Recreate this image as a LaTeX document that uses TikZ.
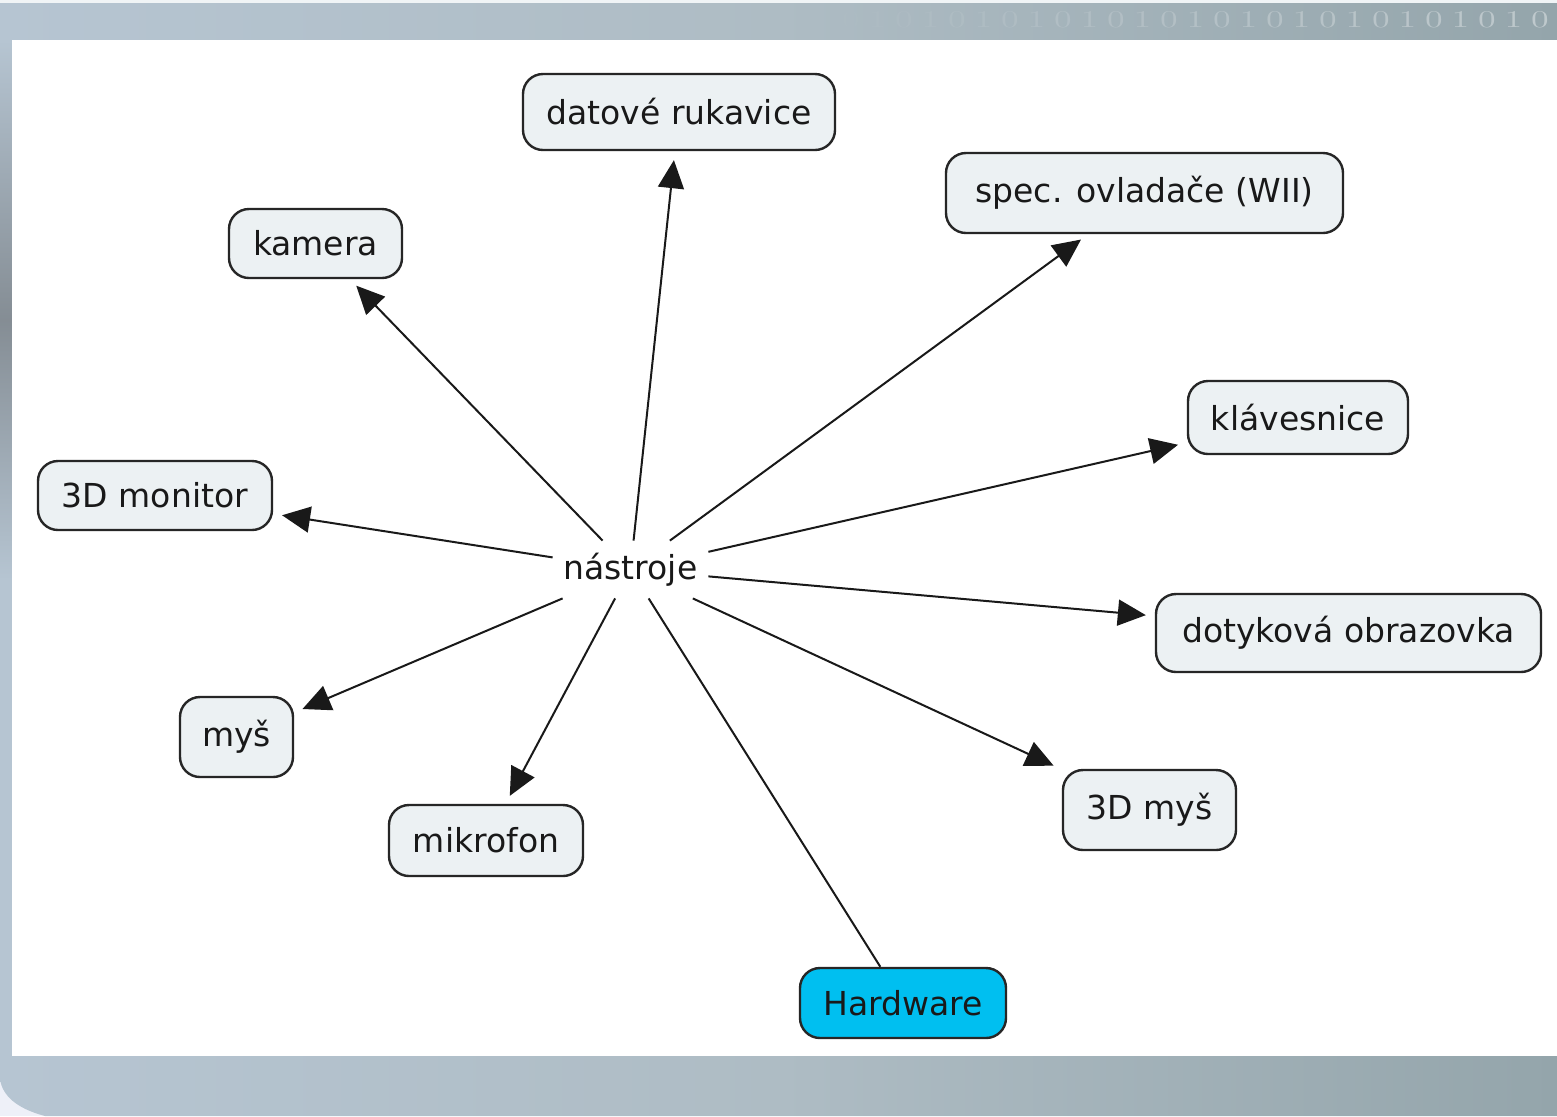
\documentclass[tikz,border=0pt]{standalone}
\usepackage{fontspec}
\setmainfont{DejaVu Sans}
\newfontfamily\bitfont{DejaVu Sans Mono}
\usetikzlibrary{arrows.meta}
\definecolor{bandL}{HTML}{B6C5D2}
\definecolor{bandM}{HTML}{AEBCC4}
\definecolor{bandR}{HTML}{94A5AB}
\definecolor{outer}{HTML}{EEF0F8}
\definecolor{boxfill}{HTML}{ECF1F3}
\definecolor{hwfill}{HTML}{00BFF0}
\begin{document}
\begin{tikzpicture}[x=0.5pt,y=-0.5pt,
  concept/.style={draw=black!85, line width=1.2pt, rounded corners=10pt, fill=boxfill,
    font=\fontsize{16.5}{19}\selectfont, text=black!90, inner sep=0pt},
  hub/.style={font=\fontsize{16.5}{19}\selectfont, text=black!90, inner sep=0pt,
    minimum width=77.5pt, minimum height=28.5pt},
  link/.style={line width=1pt, black!90, -{Triangle[length=14pt,width=13pt]}, shorten >=4.5pt},
  plainlink/.style={line width=1pt, black!90},
  bit/.style={text=white, font=\fontsize{13}{13}\selectfont\bitfont, xscale=1.5, inner sep=0pt}
]
% background frame
\useasboundingbox (0,0) rectangle (1557,1116);
\fill[outer] (0,0) rectangle (1557,1116);
\shade[left color=bandL, right color=bandR, middle color=bandM]
  (0,0) -- (1557,0) -- (1557,1116) -- (45,1116) .. controls (15,1108) and (3,1095) .. (0,1080) -- cycle;
\shade[top color=bandL, bottom color=bandL!70!gray!80!black] (0,40) rectangle (12,320);
\shade[top color=bandL!70!gray!80!black, bottom color=bandL] (0,320) rectangle (12,580);
\fill[white!80!bandL] (0,0) rectangle (1557,3);
\foreach \i in {0,...,27}{
  \pgfmathsetmacro{\op}{max(0,(27-\i)/27*0.4)}
  \pgfmathsetmacro{\dg}{mod(\i,2)==0 ? 0 : 1}
  \node[bit, opacity=\op] (bit\i) at (1540-\i*26.5,20) {\pgfmathprintnumber{\dg}};
}
\fill[white] (12,40) rectangle (1557,1056);

% nodes
\node[hub] (n) at (630.5,569.5) {nástroje};
\node[concept, minimum width=156pt, minimum height=38pt] (dr) at (679,112) {datové rukavice};
\node[concept, minimum width=198.5pt, minimum height=40pt] (so) at (1144.5,193) {spec. ovladače (WII)};
\node[concept, minimum width=86.5pt, minimum height=34.5pt] (ka) at (315.5,243.5) {kamera};
\node[concept, minimum width=110pt, minimum height=36.5pt] (kl) at (1298,417.5) {klávesnice};
\node[concept, minimum width=117pt, minimum height=34.5pt] (mo) at (155,495.5) {3D monitor};
\node[concept, minimum width=192.5pt, minimum height=39pt] (do) at (1348.5,633) {dotyková obrazovka};
\node[concept, minimum width=56.5pt, minimum height=40pt] (my) at (236.5,737) {myš};
\node[concept, minimum width=97pt, minimum height=35.5pt] (mi) at (486,840.5) {mikrofon};
\node[concept, minimum width=86.5pt, minimum height=40pt] (m3) at (1149.5,810) {3D myš};
\node[concept, fill=hwfill, minimum width=103pt, minimum height=35pt] (hw) at (903,1003) {Hardware};

% connectors
\foreach \t in {dr,so,ka,kl,mo,do,my,mi,m3}{
  \draw[link] (n) -- (\t);
}
\draw[plainlink] (hw) -- (n);
\end{tikzpicture}
\end{document}
